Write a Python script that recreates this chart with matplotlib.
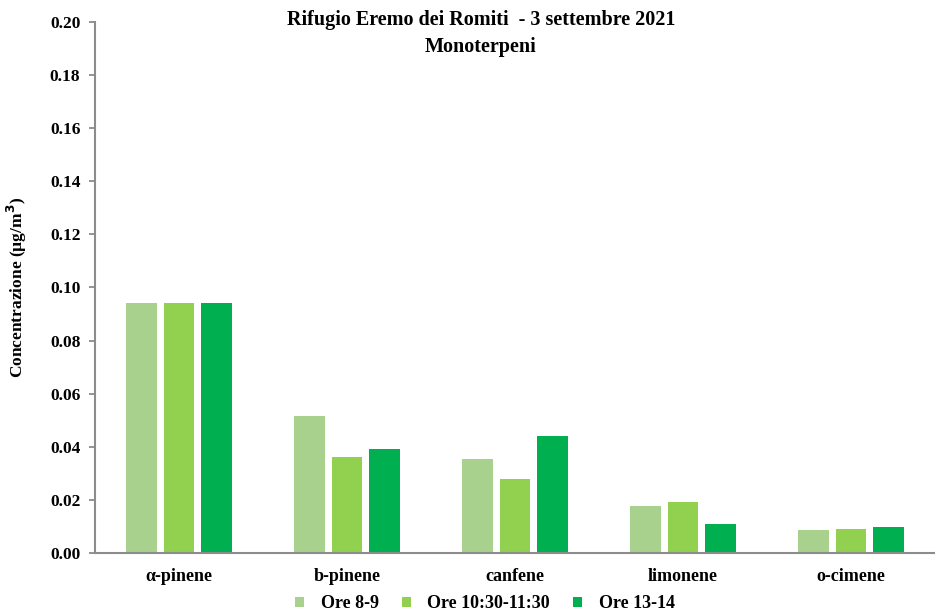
import matplotlib.pyplot as plt
import numpy as np

# === DATI ===
composti = ['α-pinene', 'b-pinene', 'canfene', 'limonene', 'o-cimene']
ore_8_9 = [0.0942, 0.0516, 0.0354, 0.0177, 0.0087]
ore_1030_1130 = [0.0940, 0.0362, 0.0279, 0.0192, 0.0090]
ore_13_14 = [0.0942, 0.0392, 0.0441, 0.0109, 0.0098]
etichette = ['Ore 8-9', 'Ore 10:30-11:30', 'Ore 13-14']
colori = ['#A9D18E', '#92D050', '#00B050']

plt.rcParams['font.family'] = ['Liberation Serif', 'DejaVu Serif']
plt.rcParams['font.weight'] = 'bold'

fig = plt.figure(figsize=(9.35, 6.14), dpi=100)
ax = fig.add_axes([95 / 935, 61 / 614, 840 / 935, 531 / 614])

x = np.arange(len(composti))
larghezza = 0.18
passo = 0.223
for i, (serie, col, lab) in enumerate(zip([ore_8_9, ore_1030_1130, ore_13_14], colori, etichette)):
    ax.bar(x + (i - 1) * passo, serie, width=larghezza, color=col, label=lab)

ax.set_xlim(-0.5, len(composti) - 0.5)
ax.set_ylim(0, 0.20)
ax.set_yticks(np.arange(0, 0.201, 0.02))
ax.set_yticklabels([f'{v:.2f}' for v in np.arange(0, 0.201, 0.02)], fontsize=12.5, fontweight='bold')
ax.set_xticks(x)
ax.set_xticklabels(composti, fontsize=13, fontweight='bold')
ax.tick_params(axis='x', length=0, pad=11)
ax.tick_params(axis='y', length=4.5, color='#808080', width=1.2, pad=6)

for s in ['top', 'right']:
    ax.spines[s].set_visible(False)
for s in ['left', 'bottom']:
    ax.spines[s].set_color('#8C8C8C')
    ax.spines[s].set_linewidth(1.5)

ax.set_ylabel('Concentrazione (µg/m$^3$)', fontsize=12.5, fontweight='bold')
ax.yaxis.set_label_coords(-66 / 840, 0.5)

fig.text(481 / 935, 1 - 20 / 614, 'Rifugio Eremo dei Romiti  - 3 settembre 2021',
         ha='center', va='center', fontsize=14.5, fontweight='bold')
fig.text(481 / 935, 1 - 47 / 614, 'Monoterpeni', ha='center', va='center', fontsize=14.5, fontweight='bold')

fig.legend(loc='center', bbox_to_anchor=(485 / 935, 1 - 604 / 614), ncol=3, frameon=False,
           fontsize=13, handlelength=0.5, handleheight=0.5, columnspacing=1.3, handletextpad=0.9)

fig.savefig('out.png', dpi=100)
